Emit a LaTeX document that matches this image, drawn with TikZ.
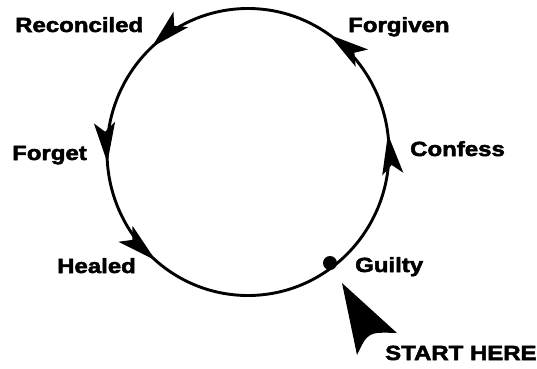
\documentclass[tikz,border=0pt]{standalone}
\usepackage{fontspec}
\newfontfamily\heavyfont{Liberation Sans Bold}[FakeStretch=1.17,FakeBold=2.5]
\usetikzlibrary{arrows.meta,decorations.markings}

\begin{document}
\begin{tikzpicture}[x=1pt, y=1pt,
    stage/.style={font=\heavyfont\fontsize{20.5}{24}\selectfont, inner sep=0pt, anchor=base west},
    cyc/.style={line width=2.9pt},
    dot/.style={circle, fill, inner sep=0pt, minimum size=14pt}
  ]
    \useasboundingbox (-248,-216) rectangle (289,152);
    \coordinate (o) at (0,0);
    % the cycle
    \draw[cyc, postaction={decorate}, decoration={markings,
        mark=at position 0.02 with {\arrow{Stealth[length=40pt,width=21pt,inset=9pt]}},
        mark=at position 0.153 with {\arrow{Stealth[length=40pt,width=21pt,inset=9pt]}},
        mark=at position 0.369 with {\arrow{Stealth[length=40pt,width=21pt,inset=9pt]}},
        mark=at position 0.512 with {\arrow{Stealth[length=40pt,width=21pt,inset=9pt]}},
        mark=at position 0.637 with {\arrow{Stealth[length=40pt,width=21pt,inset=9pt]}}}]
      (o) ellipse (141 and 143.5);
    \node[dot] (guilty) at (82,-111) {};
    % labels
    \node[stage] (reconciled) at (-233,120) {Reconciled};
    \node[stage] (forgiven) at (100,120) {Forgiven};
    \node[stage] (confess) at (162,-4) {Confess};
    \node[stage] (forget) at (-236,-8) {Forget};
    \node[stage] (healed) at (-191,-121) {Healed};
    \node[stage] (guiltylbl) at (107,-120) {Guilty};
    \node[stage] (start) at (137,-208) {START HERE};
    % start pointer
    \fill (94,-131) -- (149,-181) .. controls (120,-180) .. (109,-203) -- cycle;
  \end{tikzpicture}
\end{document}
